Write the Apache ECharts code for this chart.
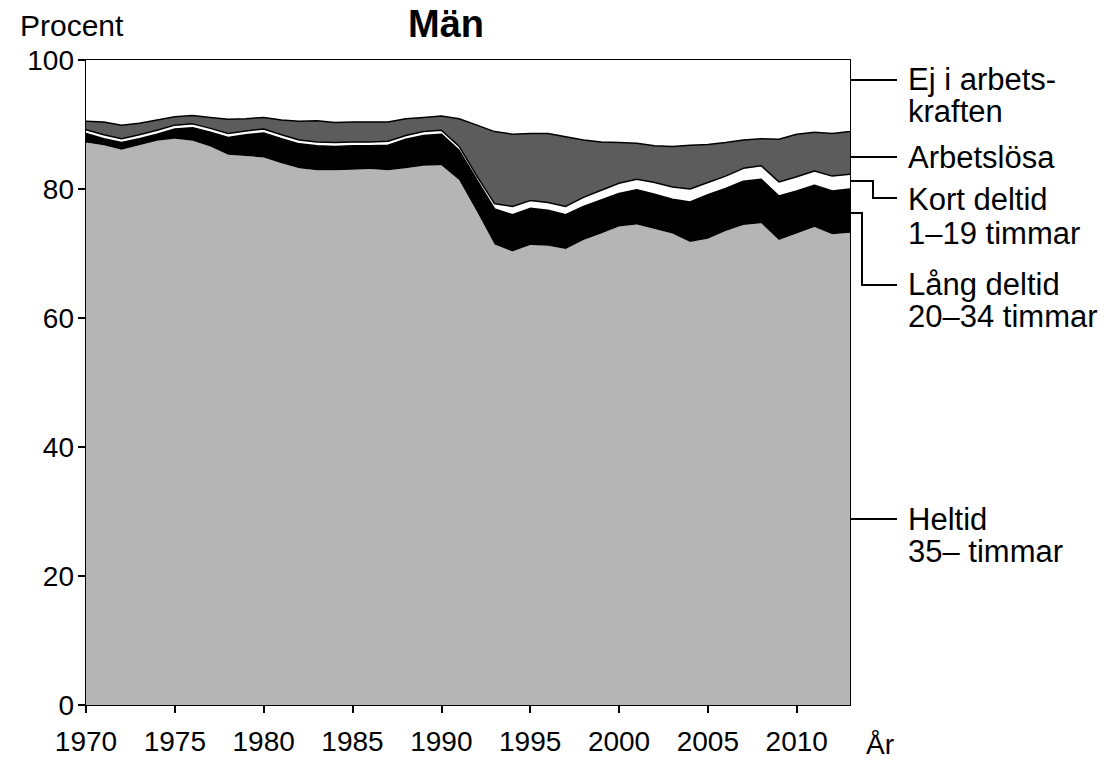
<!DOCTYPE html>
<html>
<head>
<meta charset="utf-8">
<script src="https://cdn.jsdelivr.net/npm/echarts@6/dist/echarts.min.js"></script>
<style>
  html, body { margin: 0; padding: 0; background: #fff; }
  #chart { width: 1106px; height: 769px; }
</style>
</head>
<body>
<div id="chart"></div>
<script>
// ---- Data (percent of men, by year) ----
const years = ['1970','1971','1972','1973','1974','1975','1976','1977','1978','1979',
               '1980','1981','1982','1983','1984','1985','1986','1987','1988','1989',
               '1990','1991','1992','1993','1994','1995','1996','1997','1998','1999',
               '2000','2001','2002','2003','2004','2005','2006','2007','2008','2009',
               '2010','2011','2012','2013'];
const heltid = [87.2,86.8,86.1,86.8,87.5,87.8,87.5,86.6,85.3,85.1,
                84.9,84.0,83.2,82.9,82.9,83.0,83.1,82.9,83.2,83.6,
                83.7,81.4,76.5,71.4,70.3,71.3,71.2,70.7,72.1,73.1,
                74.2,74.5,73.8,73.1,71.8,72.3,73.5,74.4,74.7,72.1,
                73.1,74.1,73.0,73.2];
const langDeltid = [1.4,1.0,1.1,1.0,1.0,1.5,2.0,2.2,2.7,3.3,
                    3.8,3.8,3.8,3.8,3.7,3.7,3.6,3.9,4.5,4.7,
                    4.8,4.6,4.9,5.5,5.7,5.7,5.5,5.3,5.2,5.2,
                    5.1,5.4,5.4,5.3,6.2,6.8,6.6,6.8,6.8,6.8,
                    6.6,6.5,6.7,6.8];
const kortDeltid = [0.6,0.6,0.6,0.6,0.6,0.6,0.6,0.6,0.6,0.6,
                    0.6,0.6,0.6,0.6,0.6,0.6,0.6,0.6,0.6,0.6,
                    0.6,0.6,0.6,0.8,1.3,1.2,1.2,1.3,1.4,1.5,
                    1.6,1.6,1.8,1.9,2.0,1.9,1.9,2.0,2.1,2.2,
                    2.2,2.2,2.3,2.3];
const arbetslosa = [1.3,2.0,2.1,1.8,1.6,1.3,1.3,1.7,2.2,1.9,
                    1.8,2.3,2.9,3.3,3.1,3.1,3.1,3.0,2.6,2.2,
                    2.2,4.3,7.9,11.2,11.2,10.4,10.7,10.8,8.9,7.5,
                    6.3,5.6,5.7,6.3,6.8,5.9,5.2,4.4,4.2,6.6,
                    6.6,6.0,6.6,6.6];
const ejArbetskraften = [9.5,9.6,10.1,9.8,9.3,8.8,8.6,8.9,9.2,9.1,
                         8.9,9.3,9.5,9.4,9.7,9.6,9.6,9.6,9.1,8.9,
                         8.7,9.1,10.1,11.1,11.5,11.4,11.4,11.9,12.4,12.7,
                         12.8,12.9,13.3,13.4,13.2,13.1,12.8,12.4,12.2,12.3,
                         11.5,11.2,11.4,11.1];
const xTickEvery = 5;   // label every 5th year: 1970, 1975, ... 2010

const FONT = '"Liberation Sans", Arial, Helvetica, sans-serif';

function areaSeries(name, arr, fill, lineW) {
  return {
    name: name,
    type: 'line',
    stack: 'total',
    symbol: 'none',
    silent: true,
    data: arr,
    lineStyle: { color: '#000', width: lineW },
    areaStyle: { color: fill, opacity: 1 },
    xAxisIndex: 0, yAxisIndex: 0
  };
}

const chart = echarts.init(document.getElementById('chart'), null, { renderer: 'svg' });

const legendLines = [
  [[851,80],[897,80]],
  [[851,157],[897,157]],
  [[851,181],[873,181],[873,198],[897,198]],
  [[851,213],[862,213],[862,285],[897,285]],
  [[851,519],[897,519]]
];
// [text, centre y of block, line height]
const legendTexts = [
  ['Ej i arbets-\nkraften', 95, 32],
  ['Arbetslösa', 157, 32],
  ['Kort deltid\n1–19 timmar', 216, 34],
  ['Lång deltid\n20–34 timmar', 300, 32],
  ['Heltid\n35– timmar', 535, 32]
];

const graphics = [];
legendLines.forEach(pts => graphics.push({
  type: 'polyline', shape: { points: pts },
  style: { stroke: '#000', lineWidth: 2, fill: null }, z: 100
}));
legendTexts.forEach(t => graphics.push({
  type: 'text', x: 908, y: t[1],
  style: { text: t[0], font: '31px ' + FONT, lineHeight: t[2], fill: '#000', verticalAlign: 'middle' },
  z: 100
}));
graphics.push({ type: 'text', x: 20, y: 25,
  style: { text: 'Procent', font: '30px ' + FONT, fill: '#000', verticalAlign: 'middle' }, z: 100 });
graphics.push({ type: 'text', x: 446, y: 24,
  style: { text: 'Män', font: 'bold 38px ' + FONT, fill: '#000', align: 'center', verticalAlign: 'middle' }, z: 100 });
graphics.push({ type: 'text', x: 866, y: 744,
  style: { text: 'År', font: '28px ' + FONT, fill: '#000', verticalAlign: 'middle' }, z: 100 });

const everyFifth = (idx) => idx % xTickEvery === 0;

chart.setOption({
  animation: false,
  backgroundColor: '#fff',
  grid: { left: 86, right: 256, top: 60, bottom: 64, containLabel: false },
  xAxis: [
    {
      type: 'category', data: years, boundaryGap: false, position: 'bottom',
      axisLine: { show: true, onZero: false, lineStyle: { color: '#000', width: 2 } },
      axisTick: { show: true, length: 8, inside: false, interval: everyFifth, lineStyle: { color: '#000', width: 2 } },
      axisLabel: { show: true, interval: everyFifth, margin: 22, color: '#000', fontSize: 28, fontFamily: FONT },
      splitLine: { show: false }
    },
    {
      type: 'category', data: years, boundaryGap: false, position: 'top',
      axisLine: { show: true, onZero: false, lineStyle: { color: '#000', width: 2 } },
      axisTick: { show: false }, axisLabel: { show: false }, splitLine: { show: false }
    }
  ],
  yAxis: [
    {
      type: 'value', min: 0, max: 100, interval: 20, position: 'left',
      axisLine: { show: true, onZero: false, lineStyle: { color: '#000', width: 2 } },
      axisTick: { show: true, length: 8, inside: false, lineStyle: { color: '#000', width: 2 } },
      axisLabel: { show: true, margin: 12, color: '#000', fontSize: 28, fontFamily: FONT },
      splitLine: { show: false }
    },
    {
      type: 'value', min: 0, max: 100, position: 'right',
      axisLine: { show: true, onZero: false, lineStyle: { color: '#000', width: 2 } },
      axisTick: { show: false }, axisLabel: { show: false }, splitLine: { show: false }
    }
  ],
  series: [
    areaSeries('Heltid 35– timmar', heltid, '#b5b5b5', 0),
    areaSeries('Lång deltid 20–34 timmar', langDeltid, '#000000', 1.5),
    areaSeries('Kort deltid 1–19 timmar', kortDeltid, '#ffffff', 1.5),
    areaSeries('Arbetslösa', arbetslosa, '#5c5c5c', 1.5),
    areaSeries('Ej i arbetskraften', ejArbetskraften, '#ffffff', 0)
  ],
  graphic: graphics
});
</script>
</body>
</html>
